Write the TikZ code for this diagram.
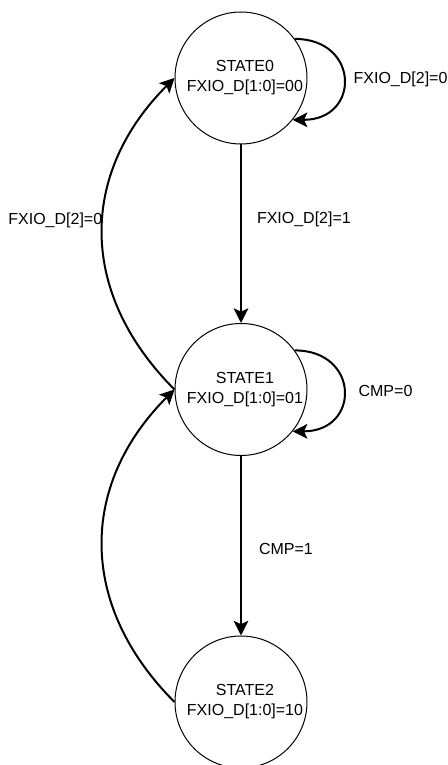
\documentclass[tikz,border=0pt]{standalone}
\usepackage{fontspec}
\setmainfont{Liberation Sans}
\usepackage{tikz}
\usetikzlibrary{arrows.meta, positioning, calc}

\begin{document}
\begin{tikzpicture}[x=0.75pt, y=0.75pt,
  font=\fontsize{12}{15}\selectfont,
  statenode/.style={circle, draw, line width=0.75pt, minimum size=99pt, inner sep=0pt, align=center},
  trans/.style={line width=1.5pt, -{Stealth[length=11pt, width=11pt, inset=2.5pt]}},
  lbl/.style={inner sep=0pt}]
  \def\sh{\hspace*{6pt}}
  \useasboundingbox (0,0) rectangle (447,765);

  % states
  \node[statenode] (s0) at (241,687)   {\sh STATE0\\\sh FXIO\_D[1:0]=00};
  \node[statenode] (s1) at (241,375.5) {\sh STATE1\\\sh FXIO\_D[1:0]=01};
  \node[statenode] (s2) at (241,63)    {\sh STATE2\\\sh FXIO\_D[1:0]=10};

  % self loops
  \draw[trans] (s0.36) .. controls +(65,0) and +(68,0) .. (s0.-39)
    node[lbl, pos=0.5, anchor=west, xshift=6.75pt] (l00) {FXIO\_D[2]=0};
  \draw[trans] (s1.36) .. controls +(65,0) and +(68,0) .. (s1.-39)
    node[lbl, pos=0.5, anchor=west, xshift=10.5pt] (l11) {CMP=0};

  % forward transitions
  \draw[trans] (s0) -- (s1)
    node[lbl, pos=0.42, anchor=west, xshift=11.25pt] (l01) {FXIO\_D[2]=1};
  \draw[trans] (s1) -- (s2)
    node[lbl, pos=0.52, anchor=west, xshift=12.75pt] (l12) {CMP=1};

  % return transitions
  \draw[trans] (s1.west) .. controls +(-96,96) and +(-96,-96) .. (s0.west)
    node[lbl, pos=0.55, anchor=east, yshift=-2pt] (l10) {FXIO\_D[2]=0};
  \draw[trans] (s2.west) .. controls +(-96,96) and +(-96,-96) .. (s1.west);

\end{tikzpicture}
\end{document}
